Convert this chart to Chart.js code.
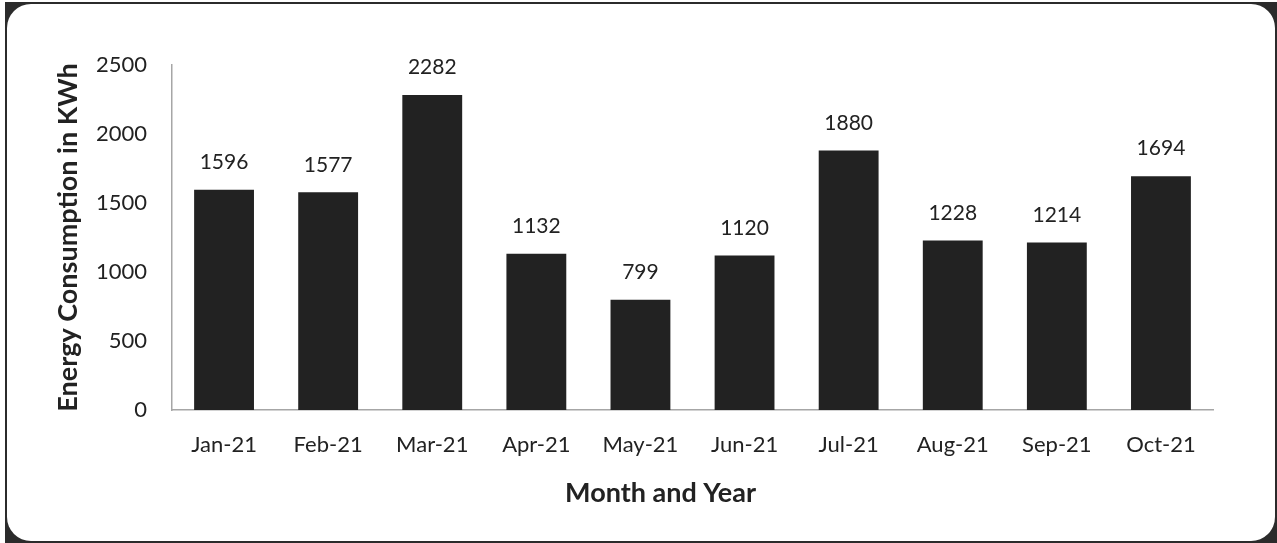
<!DOCTYPE html>
<html>
<head>
<meta charset="utf-8">
<script src="https://cdn.jsdelivr.net/npm/chart.js@4"></script>
<style>
  html, body { margin: 0; padding: 0; background: #fff; }
  .outer {
    position: absolute; left: 5px; top: 2px; width: 1272px; height: 541px;
    background: #2b2b2b;
  }
  .frame {
    position: absolute; left: 2px; top: 2px; width: 1268px; height: 537px;
    border-radius: 24px; background: #fff; overflow: hidden;
  }
  .wrap { position: absolute; left: 2px; top: 1px; width: 1266px; height: 535px; }
</style>
</head>
<body>
<div class="outer"><div class="frame"><div class="wrap"><canvas id="energy"></canvas></div></div></div>
<script>
const months = ["Jan-21", "Feb-21", "Mar-21", "Apr-21", "May-21", "Jun-21", "Jul-21", "Aug-21", "Sep-21", "Oct-21"];
const consumption = [1596, 1577, 2282, 1132, 799, 1120, 1880, 1228, 1214, 1694];
const yTicks = [0, 500, 1000, 1500, 2000, 2500];
const xTitle = "Month and Year";

// draws the value above each bar, and the x title a bit left of centre like the original
const barValues = {
  id: "barValues",
  afterDatasetsDraw(chart) {
    const ctx = chart.ctx;
    ctx.save();
    ctx.font = "21px Lato";
    ctx.fillStyle = "#222";
    ctx.textAlign = "center";
    ctx.textBaseline = "bottom";
    chart.getDatasetMeta(0).data.forEach((bar, i) => {
      ctx.fillText(consumption[i], bar.x, bar.y - 17);
    });
    const area = chart.chartArea;
    ctx.font = "bold 27px Lato";
    ctx.textBaseline = "middle";
    ctx.fillText(xTitle, (area.left + area.right) / 2 - 32, area.bottom + 83);
    ctx.restore();
  },
};

new Chart(document.getElementById("energy"), {
  type: "bar",
  data: {
    labels: months,
    datasets: [
      {
        label: "Energy Consumption in KWh",
        data: consumption,
        backgroundColor: "#222222",
        categoryPercentage: 1,
        barPercentage: 0.575,
      },
    ],
  },
  options: {
    responsive: true,
    maintainAspectRatio: false,
    animation: false,
    layout: { padding: { left: 39, right: 62, top: 60, bottom: 27 } },
    plugins: { legend: { display: false }, tooltip: { enabled: false } },
    scales: {
      x: {
        afterFit: (axis) => { axis.height = 103; },
        grid: { display: false },
        border: { display: true, color: "#a6a6a6", width: 1.5 },
        ticks: { color: "#222", font: { family: "Lato", size: 22 }, padding: 14 },
      },
      y: {
        min: 0,
        max: 2500,
        afterBuildTicks: (axis) => { axis.ticks = yTicks.map((v) => ({ value: v })); },
        afterFit: (axis) => { axis.width = 124; },
        grid: { display: false },
        border: { display: true, color: "#a6a6a6", width: 1.5 },
        ticks: {
          color: "#222",
          font: { family: "Lato", size: 22 },
          padding: 17,
          callback: (v) => String(v),
        },
        title: {
          display: true,
          text: "Energy Consumption in KWh",
          color: "#222",
          font: { family: "Lato", size: 27, weight: "bold" },
          padding: { top: 4, bottom: 4 },
        },
      },
    },
  },
  plugins: [barValues],
});
</script>
</body>
</html>
